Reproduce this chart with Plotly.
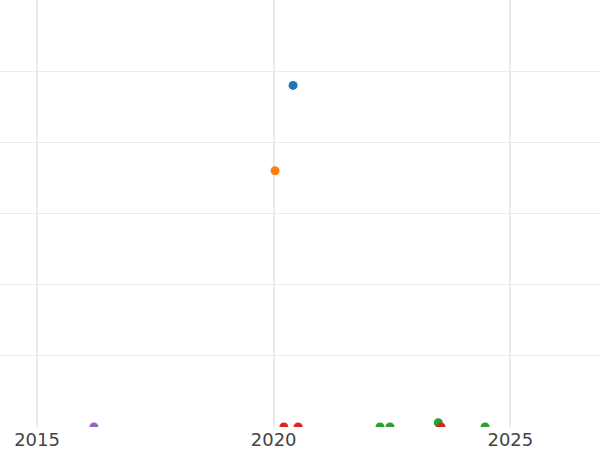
import plotly.graph_objects as go

# one list per colour group
groups = ["A", "B", "C", "D", "E"]
colors = ["#1f77b4", "#ff7f0e", "#2ca02c", "#d62728", "#9467bd"]

dates_a = ["2020-05-30"]
values_a = [4.8]

dates_b = ["2020-01-12"]
values_b = [3.6]

dates_c = ["2022-04-01", "2022-06-17", "2023-06-25", "2024-06-20"]
values_c = [0, 0, 0.06, 0]

dates_d = ["2020-03-20", "2020-07-08", "2023-07-16"]
values_d = [0, 0, 0]

dates_e = ["2016-03-15"]
values_e = [0]

x_range = ["2014-03-21", "2026-11-24"]
y_range = [0, 6]
tick_dates = ["2015-01-01", "2020-01-01", "2025-01-01"]
tick_text = ["2015", "2020", "2025"]

series = [
    (dates_a, values_a),
    (dates_b, values_b),
    (dates_c, values_c),
    (dates_d, values_d),
    (dates_e, values_e),
]

fig = go.Figure()
for name, color, (xs, ys) in zip(groups, colors, series):
    fig.add_scatter(
        x=xs, y=ys, mode="markers", name=name,
        marker=dict(color=color, size=9),
    )

fig.update_layout(
    width=600, height=450,
    margin=dict(l=0, r=0, t=0, b=23),
    plot_bgcolor="white", paper_bgcolor="white",
    showlegend=False,
    font=dict(family="DejaVu Sans", size=18, color="#444"),
)
fig.update_xaxes(
    type="date", range=x_range,
    tickvals=tick_dates, ticktext=tick_text,
    showgrid=True, gridcolor="#ebebeb", gridwidth=1.6,
    zeroline=False, showline=False, ticks="",
)
fig.update_yaxes(
    range=y_range, dtick=1,
    showgrid=True, gridcolor="#ebebeb", gridwidth=1.2,
    showticklabels=False, zeroline=False, showline=False,
)

# drop the page's default body margin so the figure sits at the window corner
fig.write_html(
    "out.html",
    config={"displayModeBar": False},
    post_script="document.body.style.margin='0';",
)
